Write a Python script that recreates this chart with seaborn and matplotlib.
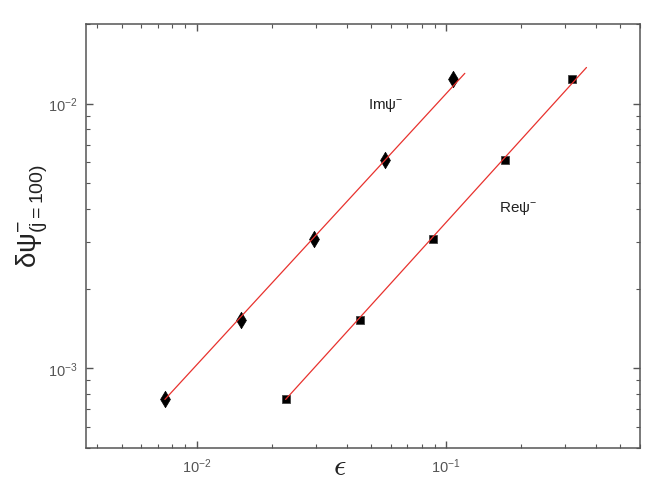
"""
Convergence of the perturbation delta-psi (j=100) against epsilon, log-log.
"""
import numpy  as np
import pandas as pd

import matplotlib
matplotlib.use("Agg")
import matplotlib.pyplot as plt
import matplotlib.ticker as mticker
import seaborn           as sns

# ================================================================================
# Data
# ================================================================================
im_eps = [0.00746, 0.0150, 0.02955, 0.0569, 0.1064]
re_eps = [0.02275, 0.0452, 0.0884, 0.1724, 0.321]
dpsi   = [7.63e-4, 1.524e-3, 3.07e-3, 6.15e-3, 1.236e-2]

# fitted lines (start / end)
im_fit_eps  = [0.00746, 0.119]
im_fit_dpsi = [7.63e-4, 1.302e-2]
re_fit_eps  = [0.02275, 0.366]
re_fit_dpsi = [7.63e-4, 1.37e-2]

labels      = ["Im$\\mathrm{\\psi}^{-}$", "Re$\\mathrm{\\psi}^{-}$"]
label_pos   = [(0.0487, 0.00997), (0.163, 0.00405)]

# ================================================================================
# Style
# ================================================================================
sns.set_theme(style="ticks")
plt.rcParams["font.family"]      = ["Liberation Sans", "DejaVu Sans"]
plt.rcParams["mathtext.fontset"] = "custom"
plt.rcParams["mathtext.rm"]      = "Liberation Sans"
plt.rcParams["mathtext.it"]      = "Liberation Sans:italic"
plt.rcParams["mathtext.bf"]      = "Liberation Sans:bold"

grey = "#555555"

pts = pd.DataFrame({
    "eps" : im_eps + re_eps,
    "dpsi": dpsi + dpsi,
    "part": ["Im"] * len(im_eps) + ["Re"] * len(re_eps),
})
fits = pd.DataFrame({
    "eps" : im_fit_eps + re_fit_eps,
    "dpsi": im_fit_dpsi + re_fit_dpsi,
    "part": ["Im"] * 2 + ["Re"] * 2,
})

fig, ax = plt.subplots(figsize=(6.45, 4.81), dpi=100)
fig.subplots_adjust(left=86/645, right=640/645, top=1-25/481, bottom=1-449/481)

# --------------------------------------------------------------------------------
# Markers + fits
# --------------------------------------------------------------------------------
sns.scatterplot(
    data=pts[pts.part == "Im"], x="eps", y="dpsi", marker="d", s=70,
    color="black", edgecolor="black", linewidth=0.5, ax=ax, zorder=2,
)
sns.scatterplot(
    data=pts[pts.part == "Re"], x="eps", y="dpsi", marker="s", s=40,
    color="black", edgecolor="#444444", linewidth=0.6, ax=ax, zorder=2,
)
sns.lineplot(
    data=fits, x="eps", y="dpsi", units="part", estimator=None,
    color="#e8322e", linewidth=0.9, ax=ax, zorder=3, legend=False,
)

for txt, (x, y) in zip(labels, label_pos):
    ax.text(x, y, txt, fontsize=11, color="#222222", va="center", ha="left")

# --------------------------------------------------------------------------------
# Axes
# --------------------------------------------------------------------------------
ax.set_xscale("log"); ax.set_yscale("log")
ax.set_xlim(0.0036, 0.6)
ax.set_ylim(5e-4, 2e-2)

ax.xaxis.set_minor_formatter(mticker.NullFormatter())
ax.yaxis.set_minor_formatter(mticker.NullFormatter())

ax.tick_params(which="both", direction="in", top=True, right=True,
               colors=grey, labelcolor=grey, labelsize=10.5, pad=6)
ax.tick_params(which="major", length=5, width=1)
ax.tick_params(which="minor", length=3, width=0.8)
for s in ax.spines.values():
    s.set_color(grey); s.set_linewidth(1.1)

ax.set_xlabel(r"$\epsilon$", fontsize=22, math_fontfamily="cm", color="#222222", va="baseline")
ax.xaxis.set_label_coords(0.458, -0.062)
ax.set_ylabel(r"$\mathrm{\delta\psi}^{-}_{\mathrm{(j{=}100)}}$", fontsize=20,
              color="#222222", va="center")
ax.yaxis.set_label_coords(-0.096, 0.55)

plt.savefig("out.png", dpi=100)
